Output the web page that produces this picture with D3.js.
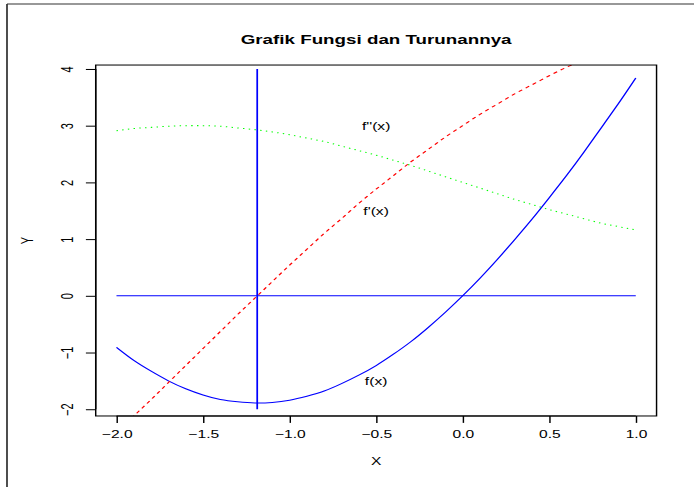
<!DOCTYPE html>
<html>
<head>
<meta charset="utf-8">
<script src="https://cdn.jsdelivr.net/npm/d3@7"></script>
<style>
  html, body { margin: 0; padding: 0; background: #fff; }
  svg { display: block; }
  text { font-family: "Liberation Sans", Arial, Helvetica, sans-serif; fill: #000; }
</style>
</head>
<body>
<svg id="chart"></svg>
<script>
// Sample points along x
const xs = [-2.0, -1.9, -1.8, -1.7, -1.6, -1.5, -1.4, -1.3, -1.2, -1.1,
            -1.0, -0.9, -0.8, -0.7, -0.6, -0.5, -0.4, -0.3, -0.2, -0.1,
             0.0,  0.1,  0.2,  0.3,  0.4,  0.5,  0.6,  0.7,  0.8,  0.9, 1.0];

// f(x)
const fVals = [-0.91, -1.14, -1.33, -1.50, -1.64, -1.75, -1.83, -1.87, -1.89, -1.88,
               -1.84, -1.77, -1.68, -1.55, -1.40, -1.23, -1.03, -0.81, -0.56, -0.29,
                0.00,  0.31,  0.64,  0.99,  1.35,  1.73,  2.12,  2.53,  2.96,  3.39, 3.84];

// f'(x)
const f1Vals = [-2.42, -2.12, -1.83, -1.53, -1.23, -0.93, -0.63, -0.33, -0.04, 0.25,
                 0.54,  0.82,  1.10,  1.36,  1.63,  1.88,  2.12,  2.36,  2.58, 2.80,
                 3.00,  3.20,  3.38,  3.56,  3.72,  3.88,  4.03,  4.16,  4.30, 4.42, 4.54];

// f''(x)
const f2Vals = [2.91, 2.95, 2.97, 2.99, 3.00, 3.00, 2.99, 2.96, 2.93, 2.89,
                2.84, 2.78, 2.72, 2.64, 2.56, 2.48, 2.39, 2.30, 2.20, 2.10,
                2.00, 1.90, 1.80, 1.70, 1.61, 1.52, 1.44, 1.36, 1.28, 1.22, 1.16];

const xTicks = [-2.0, -1.5, -1.0, -0.5, 0.0, 0.5, 1.0];
const yTicks = [-2, -1, 0, 1, 2, 3, 4];

// Stationary point of f (where f'(x) = 0) and the segment drawn there
const rootX = -1.187;
const rootSeg = [-2, 4];
const zeroLine = { y: 0, x0: -2, x1: 1 };

// Curve labels
const labels = [
  { text: "f''(x)", x: -0.5, y: 3 },
  { text: "f'(x)",  x: -0.5, y: 1.5 },
  { text: "f(x)",   x: -0.5, y: -1.5 }
];

const titleText = "Grafik Fungsi dan Turunannya";

// Drawing is laid out on a 480x480 canvas, stretched to the window
const W = 694, H = 487;
const svg = d3.select("#chart")
  .attr("width", W).attr("height", H)
  .attr("viewBox", "0 0 480 480")
  .attr("preserveAspectRatio", "none");

const box = { left: 66.2, right: 454.1, top: 64.1, bottom: 410.0 };

// Axis ranges extended 4% beyond the data range
const xr = d3.extent(xs);
const xPad = (xr[1] - xr[0]) * 0.04;
const yr = d3.extent(fVals);
const yPad = (yr[1] - yr[0]) * 0.04;

const x = d3.scaleLinear().domain([xr[0] - xPad, xr[1] + xPad]).range([box.left, box.right]);
const y = d3.scaleLinear().domain([yr[0] - yPad, yr[1] + yPad]).range([box.bottom, box.top]);

// Outer frame
svg.append("line").attr("x1", 4.84).attr("x2", 480).attr("y1", 3.94).attr("y2", 3.94)
  .attr("stroke", "#333").attr("stroke-width", 1.2);
svg.append("line").attr("x1", 4.84).attr("x2", 4.84).attr("y1", 3.94).attr("y2", 480)
  .attr("stroke", "#333").attr("stroke-width", 1.2);

svg.append("clipPath").attr("id", "plotClip")
  .append("rect")
  .attr("x", box.left).attr("y", box.top)
  .attr("width", box.right - box.left).attr("height", box.bottom - box.top);

const plot = svg.append("g").attr("clip-path", "url(#plotClip)");

const line = vals => d3.line()
  .x((d, i) => x(xs[i]))
  .y(d => y(d))
  .curve(d3.curveNatural)(vals);

// f(x)
plot.append("path").attr("d", line(fVals))
  .attr("fill", "none").attr("stroke", "#0000ff").attr("stroke-width", 1);
// f'(x)
plot.append("path").attr("d", line(f1Vals))
  .attr("fill", "none").attr("stroke", "#ff0000").attr("stroke-width", 1)
  .attr("stroke-dasharray", "3,3");
// f''(x)
plot.append("path").attr("d", line(f2Vals))
  .attr("fill", "none").attr("stroke", "#00ff00").attr("stroke-width", 1)
  .attr("stroke-dasharray", "1,3");

// y = 0 reference line
plot.append("line")
  .attr("x1", x(zeroLine.x0)).attr("x2", x(zeroLine.x1))
  .attr("y1", y(zeroLine.y)).attr("y2", y(zeroLine.y))
  .attr("stroke", "#0000ff").attr("stroke-width", 1);

// Vertical segment at the minimum of f
plot.append("line")
  .attr("x1", x(rootX)).attr("x2", x(rootX))
  .attr("y1", y(rootSeg[0])).attr("y2", y(rootSeg[1]))
  .attr("stroke", "#0000ff").attr("stroke-width", 1.2);

// Plot box
svg.append("rect")
  .attr("x", box.left).attr("y", box.top)
  .attr("width", box.right - box.left).attr("height", box.bottom - box.top)
  .attr("fill", "none").attr("stroke", "#000").attr("stroke-width", 1);

const fmtX = d => d3.format(".1f")(d).replace("-", "\u2212");
const fmtY = d => String(d).replace("-", "\u2212");

// X axis
const xAxis = svg.append("g").attr("transform", `translate(0,${box.bottom})`)
  .call(d3.axisBottom(x).tickValues(xTicks).tickFormat(fmtX).tickSize(6.8).tickPadding(12));
xAxis.select(".domain").attr("d", `M${x(xTicks[0])},0H${x(xTicks[xTicks.length - 1])}`);
xAxis.selectAll("text").attr("font-size", 10.8).attr("dy", null).attr("y", 22);
xAxis.selectAll("line, path").attr("stroke", "#000");

// Y axis (labels parallel to the axis)
const yAxis = svg.append("g").attr("transform", `translate(${box.left},0)`)
  .call(d3.axisLeft(y).tickValues(yTicks).tickFormat(fmtY).tickSize(6.8));
yAxis.select(".domain").attr("d", `M0,${y(yTicks[0])}V${y(yTicks[yTicks.length - 1])}`);
yAxis.selectAll("line, path").attr("stroke", "#000");
yAxis.selectAll(".tick text")
  .attr("font-size", 10.8)
  .attr("x", null).attr("dy", null)
  .attr("text-anchor", "middle")
  .attr("transform", "translate(-15.9,0) rotate(-90)");

d3.selectAll("text").attr("font-family", "'Liberation Sans', Arial, Helvetica, sans-serif");

// Curve labels
svg.append("g").selectAll("text").data(labels).join("text")
  .attr("x", d => x(d.x)).attr("y", d => y(d.y))
  .attr("dy", "0.36em")
  .attr("text-anchor", "middle")
  .attr("font-size", 10.8)
  .text(d => d.text);

// Title and axis titles
svg.append("text")
  .attr("x", (box.left + box.right) / 2).attr("y", 43.8)
  .attr("text-anchor", "middle")
  .attr("font-size", 13).attr("font-weight", "bold")
  .text(titleText);

svg.append("text")
  .attr("x", (box.left + box.right) / 2).attr("y", 458.3)
  .attr("text-anchor", "middle")
  .attr("font-size", 10.8)
  .text("X");

svg.append("text")
  .attr("transform", `translate(23.0,${(box.top + box.bottom) / 2}) rotate(-90)`)
  .attr("text-anchor", "middle")
  .attr("font-size", 10.8)
  .text("Y");
</script>
</body>
</html>
